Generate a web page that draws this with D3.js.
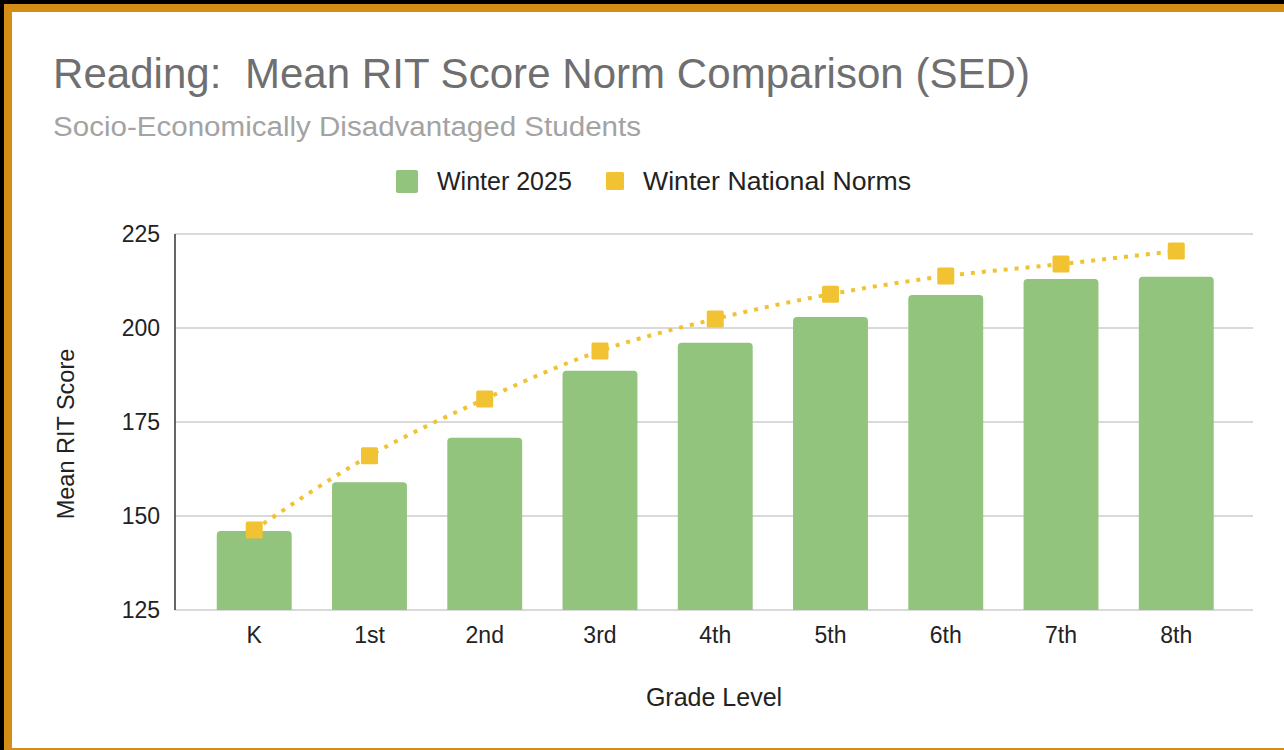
<!DOCTYPE html>
<html>
<head>
<meta charset="utf-8">
<script src="https://cdn.jsdelivr.net/npm/d3@7"></script>
<style>
  body { margin: 0; background: #000; }
  svg { display: block; font-family: "Liberation Sans", Arial, sans-serif; }
</style>
</head>
<body>
<div class="chart"></div>
<script>
// data
const grades = ['K', '1st', '2nd', '3rd', '4th', '5th', '6th', '7th', '8th'];
const winter2025 = [146, 159, 170.8, 188.6, 196.1, 202.9, 208.8, 213, 213.6];
const nationalNorms = [146.3, 166, 181.1, 193.9, 202.4, 209, 213.8, 217, 220.5];
const yTicks = [125, 150, 175, 200, 225];
const seriesNames = ['Winter 2025', 'Winter National Norms'];

const width = 1284;
const height = 750;

let svg = d3.select('.chart')
	.append('svg')
	.attr('width', width)
	.attr('height', height);

// frame: black outside, orange border, white card
svg.append('rect').attr('width', width).attr('height', height).attr('fill', '#000');
svg.append('rect').attr('x', 4).attr('y', 4).attr('width', width).attr('height', height - 4).attr('fill', '#d48d16');
svg.append('rect').attr('x', 12).attr('y', 12).attr('width', width).attr('height', height - 14).attr('fill', '#fff');

// titles
svg.append('text')
	.attr('x', 53).attr('y', 88)
	.attr('textLength', 977)
	.style('font-size', '42px')
	.style('fill', '#6f6f6f')
	.text('Reading:\u00a0\u00a0Mean RIT Score Norm Comparison (SED)');

svg.append('text')
	.attr('x', 53).attr('y', 136)
	.attr('textLength', 588)
	.attr('lengthAdjust', 'spacingAndGlyphs')
	.style('font-size', '27px')
	.style('fill', '#a3a3a3')
	.text('Socio-Economically Disadvantaged Students');

// scales
const x = d3.scaleBand()
	.domain(grades)
	.range([196.6, 1233.9])
	.paddingInner(0.35)
	.paddingOuter(0.175);

const y = d3.scaleLinear()
	.domain([125, 225])
	.range([610, 234]);

const plotLeft = 175, plotRight = 1253;

// gridlines
svg.append('g')
	.selectAll('line')
	.data(yTicks)
	.join('line')
	.attr('x1', plotLeft)
	.attr('x2', plotRight)
	.attr('y1', d => y(d))
	.attr('y2', d => y(d))
	.style('stroke', '#cccccc')
	.style('stroke-width', 1.5);

// y axis labels
svg.append('g')
	.selectAll('text')
	.data(yTicks)
	.join('text')
	.attr('x', 160)
	.attr('y', d => y(d))
	.attr('dy', '0.36em')
	.attr('text-anchor', 'end')
	.style('font-size', '23px')
	.style('fill', '#222')
	.text(d => d);

// bars with rounded tops
const r = 4;
svg.append('g')
	.selectAll('path')
	.data(winter2025)
	.join('path')
	.attr('d', (d, i) => {
		const x0 = x(grades[i]), w = x.bandwidth();
		const yt = y(d), yb = y(125);
		return `M${x0},${yb}V${yt + r}Q${x0},${yt} ${x0 + r},${yt}H${x0 + w - r}Q${x0 + w},${yt} ${x0 + w},${yt + r}V${yb}Z`;
	})
	.attr('fill', '#93c47d');

// vertical axis line
svg.append('line')
	.attr('x1', plotLeft).attr('x2', plotLeft)
	.attr('y1', y(225)).attr('y2', y(125))
	.style('stroke', '#333')
	.style('stroke-width', 1.5);

// national norms line
const line = d3.line()
	.x((d, i) => x(grades[i]) + x.bandwidth() / 2)
	.y(d => y(d))
	.curve(d3.curveMonotoneX);

svg.append('path')
	.datum(nationalNorms)
	.attr('d', line)
	.attr('fill', 'none')
	.style('stroke', '#f1c232')
	.style('stroke-width', 4)
	.style('stroke-dasharray', '4 7');

const m = 17;
svg.append('g')
	.selectAll('rect')
	.data(nationalNorms)
	.join('rect')
	.attr('x', (d, i) => x(grades[i]) + x.bandwidth() / 2 - m / 2)
	.attr('y', d => y(d) - m / 2)
	.attr('width', m)
	.attr('height', m)
	.attr('rx', 1.5)
	.attr('fill', '#f1c232');

// x labels
svg.append('g')
	.selectAll('text')
	.data(grades)
	.join('text')
	.attr('x', d => x(d) + x.bandwidth() / 2)
	.attr('y', 643)
	.attr('text-anchor', 'middle')
	.style('font-size', '23px')
	.style('fill', '#222')
	.text(d => d);

// axis titles
svg.append('text')
	.attr('x', 714).attr('y', 706)
	.attr('text-anchor', 'middle')
	.style('font-size', '25px')
	.style('fill', '#222')
	.text('Grade Level');

svg.append('text')
	.attr('transform', 'translate(74,434) rotate(-90)')
	.attr('text-anchor', 'middle')
	.style('font-size', '23.5px')
	.style('fill', '#222')
	.text('Mean RIT Score');

// legend
svg.append('rect').attr('x', 396).attr('y', 170).attr('width', 22).attr('height', 23).attr('rx', 2).attr('fill', '#93c47d');
svg.append('text').attr('x', 437).attr('y', 190).style('font-size', '25px').style('fill', '#222').text(seriesNames[0]);
svg.append('rect').attr('x', 606).attr('y', 172).attr('width', 18).attr('height', 18).attr('rx', 1.5).attr('fill', '#f1c232');
svg.append('text').attr('x', 643).attr('y', 190).attr('textLength', 268).attr('lengthAdjust', 'spacingAndGlyphs').style('font-size', '25px').style('fill', '#222').text(seriesNames[1]);
</script>
</body>
</html>
